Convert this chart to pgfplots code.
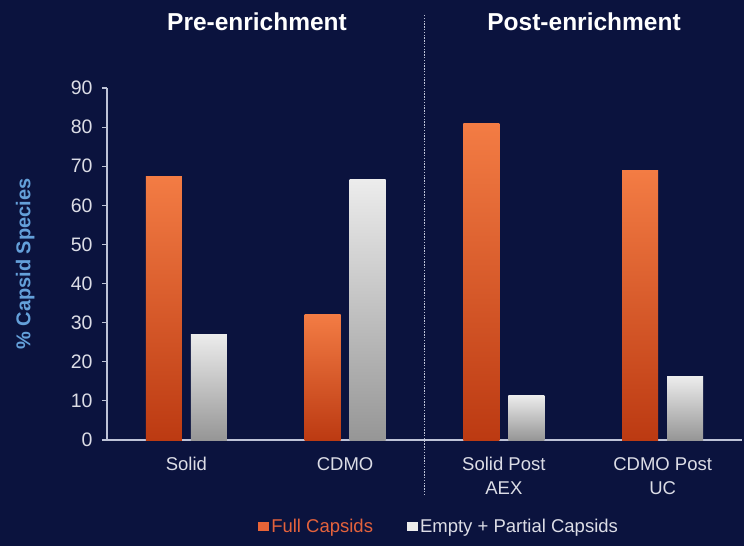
\documentclass[border=0pt]{standalone}
\usepackage{pgfplots}
\pgfplotsset{compat=1.18}
\usepackage{fontspec}
\setmainfont{Liberation Sans}
\definecolor{bg}{RGB}{11,19,62}
\definecolor{axiscol}{RGB}{190,195,215}
\definecolor{ticktext}{RGB}{220,221,230}
\definecolor{ylab}{RGB}{100,160,218}
\definecolor{orangeTop}{RGB}{243,124,68}
\definecolor{orangeBot}{RGB}{188,58,18}
\definecolor{grayTop}{RGB}{236,236,236}
\definecolor{grayBot}{RGB}{150,150,150}
\definecolor{legorange}{RGB}{228,98,60}
\definecolor{legsq}{RGB}{232,100,55}
\pgfplotsset{
  fullbar/.style={ybar, bar width=36bp, bar shift=-22.5bp, draw=none,
    top color=orangeTop, bottom color=orangeBot,
    legend image code/.code={\pgfpathrectangle{\pgfpoint{0bp}{-4bp}}{\pgfpoint{11bp}{9bp}}\pgfsetfillcolor{legsq}\pgfusepath{fill}}},
  emptybar/.style={ybar, bar width=36bp, bar shift=22.5bp, draw=none,
    top color=grayTop, bottom color=grayBot,
    legend image code/.code={\pgfpathrectangle{\pgfpoint{0bp}{-4bp}}{\pgfpoint{11bp}{9bp}}\pgfsetfillcolor{grayTop}\pgfusepath{fill}}},
}
\begin{document}
\begin{tikzpicture}
\path[use as bounding box, fill=bg] (-107bp,-106bp) rectangle (637bp,440bp);
\begin{axis}[
  scale only axis, width=635bp, height=352bp,
  xmin=-0.5, xmax=3.5, ymin=0, ymax=90,
  axis x line*=bottom, axis y line*=left,
  axis line style={axiscol, line width=1.2bp},
  xtick={0,1,2,3},
  xticklabels={Solid,CDMO,Solid Post\\AEX,CDMO Post\\UC},
  x tick style={draw=none},
  xticklabel style={align=center, font=\fontsize{18.5bp}{24bp}\selectfont, text=ticktext, yshift=-9bp},
  ytick={0,10,...,90},
  y tick style={axiscol, line width=1.2bp},
  tick align=outside, major tick length=5bp,
  yticklabel style={font=\fontsize{19.5bp}{22bp}\selectfont, text=ticktext, xshift=-6bp},
  /pgf/number format/assume math mode=true,
  ylabel={\% Capsid Species},
  ylabel style={at={(axis description cs:-0.129,0.5)}, rotate=0, anchor=center,
    font=\bfseries\fontsize{20bp}{24bp}\selectfont, text=ylab},
  clip=false,
  legend style={at={(axis description cs:0.523,-0.246)}, anchor=center, draw=none, fill=none,
    legend columns=2, font=\fontsize{18.5bp}{22bp}\selectfont, text=ticktext,
    /tikz/every even column/.append style={column sep=32bp}},
  legend cell align=left,
]
\addplot[fullbar] coordinates {(0,67.5)};
\addlegendentry{\textcolor{legorange}{Full Capsids}}
\addplot[emptybar] coordinates {(0,27.1)};
\addlegendentry{Empty + Partial Capsids}
\addplot[fullbar, forget plot] coordinates {(1,32.2)};
\addplot[fullbar, forget plot] coordinates {(2,81.0)};
\addplot[fullbar, forget plot] coordinates {(3,69.0)};
\addplot[emptybar, forget plot] coordinates {(1,66.5)};
\addplot[emptybar, forget plot] coordinates {(2,11.4)};
\addplot[emptybar, forget plot] coordinates {(3,16.2)};
\draw[axiscol, line width=1.6bp, dash pattern=on 1.4bp off 1.4bp] (axis cs:1.5,-14.1) -- (axis cs:1.5,108.7);
\node[anchor=base, font=\bfseries\fontsize{24.5bp}{28bp}\selectfont, text=white] at (axis cs:0.445,104.8) {Pre-enrichment};
\node[anchor=base, font=\bfseries\fontsize{24.5bp}{28bp}\selectfont, text=white] at (axis cs:2.505,104.8) {Post-enrichment};
\end{axis}
\end{tikzpicture}
\end{document}
